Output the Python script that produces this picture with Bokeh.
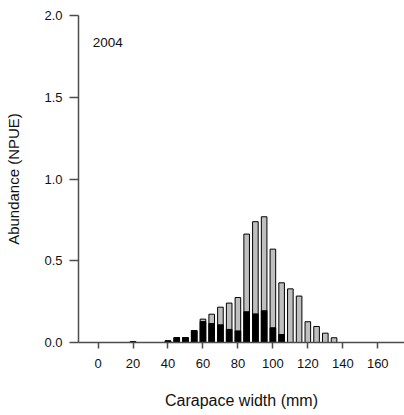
from bokeh.plotting import figure
from bokeh.embed import file_html
from bokeh.resources import INLINE
from bokeh.models import Range1d, FixedTicker, Label

# Carapace width bins (mm)
widths = [20, 40, 45, 50, 55, 60, 65, 70, 75, 80, 85, 90, 95, 100, 105,
          110, 115, 120, 125, 130, 135]
# Total abundance (NPUE) per bin
total = [0.005, 0.01, 0.03, 0.03, 0.073, 0.143, 0.173, 0.216, 0.241, 0.275,
         0.663, 0.739, 0.769, 0.571, 0.365, 0.328, 0.284, 0.127, 0.098, 0.057, 0.029]
# Black (sub-group) abundance per bin
black = [0.005, 0.01, 0.03, 0.03, 0.073, 0.128, 0.116, 0.108, 0.08, 0.071,
         0.188, 0.175, 0.194, 0.09, 0.049, 0, 0, 0, 0, 0, 0]
x_ticks = [0, 20, 40, 60, 80, 100, 120, 140, 160]
y_ticks = [0.0, 0.5, 1.0, 1.5, 2.0]
year_label = "2004"

FONT = "Liberation Sans"

p = figure(width=404, height=415, output_backend="svg", toolbar_location=None,
           x_range=Range1d(-11.2, 175.3), y_range=Range1d(0, 2.0),
           min_border_left=78, min_border_right=0, min_border_top=15,
           min_border_bottom=73)
p.outline_line_color = None
p.xgrid.visible = False
p.ygrid.visible = False
p.background_fill_color = "white"
p.border_fill_color = "white"

p.vbar(x=widths, top=total, bottom=0, width=3.2, fill_color="#bfbfbf",
       line_color="black", line_width=1)
nz_x = [w for w, b in zip(widths, black) if b > 0]
nz_b = [b for b in black if b > 0]
p.vbar(x=nz_x, top=nz_b, bottom=0, width=3.2, fill_color="black",
       line_color="black", line_width=1)

axis_color = "#4d4d4d"
for ax in (p.xaxis[0], p.yaxis[0]):
    ax.axis_line_color = axis_color
    ax.axis_line_width = 1.5
    ax.major_tick_line_color = axis_color
    ax.major_tick_line_width = 1.5
    ax.major_tick_in = 0
    ax.minor_tick_line_color = None
    ax.major_label_text_font = FONT
    ax.major_label_text_font_size = "13px"
    ax.major_label_text_color = "#111111"
    ax.axis_label_text_font = FONT
    ax.axis_label_text_font_style = "normal"
    ax.axis_label_text_color = "#111111"

p.xaxis.axis_label_text_font_size = "16px"
p.yaxis.axis_label_text_font_size = "15px"
p.xaxis.ticker = FixedTicker(ticks=x_ticks)
p.yaxis.ticker = FixedTicker(ticks=y_ticks)
p.yaxis.major_label_overrides = {t: f"{t:.1f}" for t in y_ticks}
p.xaxis.major_tick_out = 6
p.yaxis.major_tick_out = 9
p.xaxis.major_label_standoff = 10
p.yaxis.major_label_standoff = 7
p.xaxis.axis_label = "Carapace width (mm)"
p.yaxis.axis_label = "Abundance (NPUE)"
p.xaxis.axis_label_standoff = 21
p.yaxis.axis_label_standoff = 19

p.add_layout(Label(x=-3, y=1.835, text=year_label, text_font=FONT,
                   text_font_size="13.5px", text_baseline="middle",
                   text_align="left", text_color="#111111"))

open("out.html", "w").write(file_html(p, INLINE))
